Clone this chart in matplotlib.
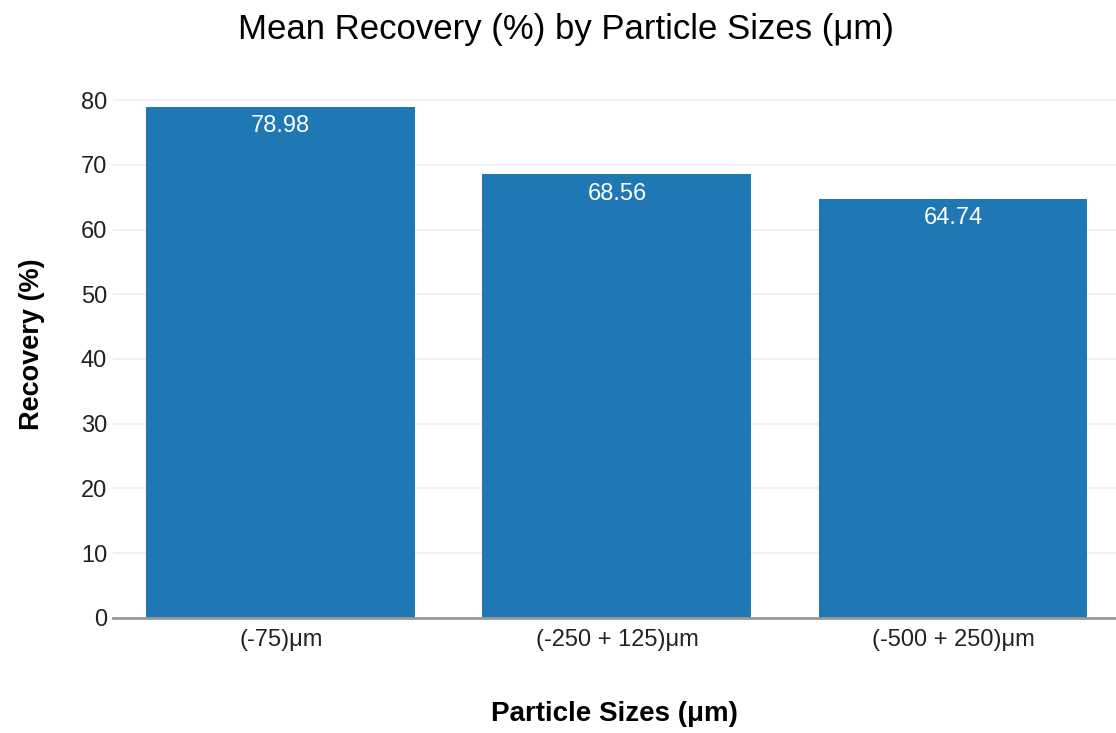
import matplotlib
matplotlib.use("Agg")
import matplotlib.pyplot as plt

plt.rcParams['font.family'] = ['Liberation Sans', 'DejaVu Sans']

sizes = ['(-75)μm', '(-250 + 125)μm', '(-500 + 250)μm']
recovery = [78.98, 68.56, 64.74]
yticks = [0, 10, 20, 30, 40, 50, 60, 70, 80]

fig = plt.figure(figsize=(11.16, 7.33), dpi=100)
ax = fig.add_axes([0.101, 0.157, 0.899, 0.733])

x = list(range(len(sizes)))
bars = ax.bar(x, recovery, width=0.8, color='#1f77b4', zorder=2)

# value labels just inside the top of each bar
for b, v in zip(bars, recovery):
    ax.text(b.get_x() + b.get_width() / 2, v - 3, f'{v:.2f}',
            ha='center', va='center', color='white', fontsize=17)

ax.set_xlim(-0.5, 2.485)
ax.set_ylim(0, 83)
ax.set_xticks(x)
ax.set_xticklabels(sizes, fontsize=17)
ax.set_yticks(yticks)
ax.tick_params(axis='y', labelsize=17, length=0, pad=4, labelcolor='#222222')
ax.tick_params(axis='x', length=0, pad=8, labelcolor='#222222')
ax.grid(axis='y', color='#eeeeee', linewidth=1.2, zorder=0)

for s in ['top', 'right', 'left']:
    ax.spines[s].set_visible(False)
ax.spines['bottom'].set_color('#999999')
ax.spines['bottom'].set_linewidth(2)
ax.spines['bottom'].set_zorder(3)

# title is centred on the whole figure, not the plot area
ax.set_title('Mean Recovery (%) by Particle Sizes (μm)', fontsize=25, pad=30, x=0.452)
ax.set_xlabel('Particle Sizes (μm)', fontsize=20, fontweight='bold', labelpad=36)
ax.set_ylabel('Recovery (%)', fontsize=19.5, fontweight='bold')
ax.yaxis.set_label_coords(-0.067, 0.51)

fig.savefig('out.png', dpi=100)
